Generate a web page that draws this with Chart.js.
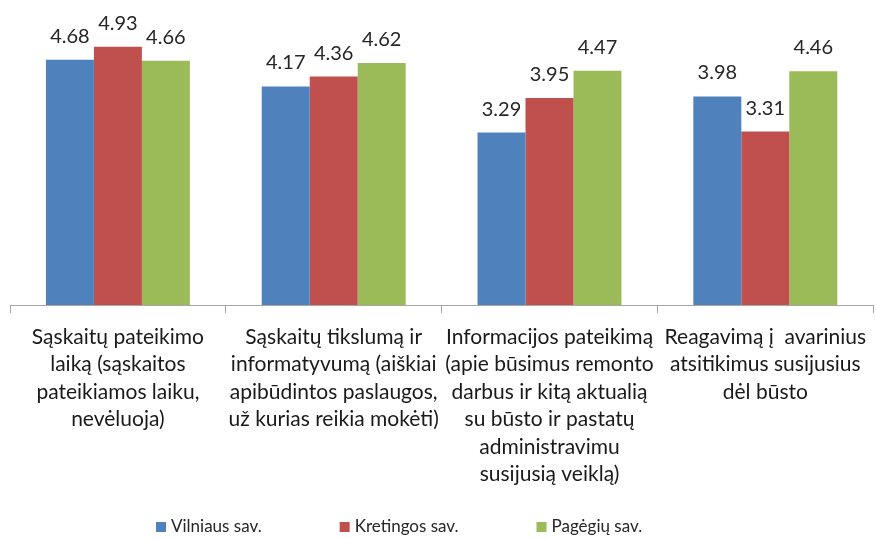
<!DOCTYPE html>
<html>
<head>
<meta charset="utf-8">
<script src="https://cdn.jsdelivr.net/npm/chart.js@4"></script>
<style>
  html, body { margin: 0; padding: 0; background: #fff; }
  #wrap { width: 876px; height: 539px; }
</style>
</head>
<body>
<div id="wrap"><canvas id="grafikas"></canvas></div>
<script>
const kategorijos = [
    ['Sąskaitų pateikimo', 'laiką (sąskaitos', 'pateikiamos laiku,', 'nevėluoja)'],
    ['Sąskaitų tikslumą ir', 'informatyvumą (aiškiai', 'apibūdintos paslaugos,', 'už kurias reikia mokėti)'],
    ['Informacijos pateikimą', '(apie būsimus remonto', 'darbus ir kitą aktualią', 'su būsto ir pastatų', 'administravimu', 'susijusią veiklą)'],
    ['Reagavimą į  avarinius', 'atsitikimus susijusius', 'dėl būsto']
]
const serijos = ['Vilniaus sav.', 'Kretingos sav.', 'Pagėgių sav.']
const vilnius = [4.68, 4.17, 3.29, 3.98]
const kretinga = [4.93, 4.36, 3.95, 3.31]
const pagegiai = [4.66, 4.62, 4.47, 4.46]
const spalvos = ['#4F81BD', '#C0504D', '#9BBB59']

const SRIFTAS = 'Lato, "Open Sans", sans-serif'

// reiksmes virs stulpeliu
const reiksmiuZymes = {
    id: 'reiksmiuZymes',
    afterDatasetsDraw(chart) {
        const ctx = chart.ctx
        ctx.save()
        ctx.font = '20px ' + SRIFTAS
        ctx.fillStyle = '#262626'
        ctx.textAlign = 'center'
        ctx.textBaseline = 'alphabetic'
        chart.data.datasets.forEach((ds, i) => {
            chart.getDatasetMeta(i).data.forEach((bar, j) => {
                ctx.fillText(ds.data[j].toFixed(2), bar.x, bar.y - 17)
            })
        })
        ctx.restore()
    }
}

// legenda apacioje
const legenda = {
    id: 'legenda',
    afterDraw(chart) {
        const ctx = chart.ctx
        ctx.save()
        ctx.font = '17px ' + SRIFTAS
        ctx.textBaseline = 'middle'
        let x = 156
        const y = 527
        chart.data.datasets.forEach(ds => {
            ctx.fillStyle = ds.backgroundColor
            ctx.fillRect(x, y - 5, 10, 10)
            ctx.fillStyle = '#262626'
            ctx.fillText(ds.label, x + 15, y)
            x += 15 + ctx.measureText(ds.label).width + 78
        })
        ctx.restore()
    }
}

new Chart(document.getElementById('grafikas').getContext('2d'), {
    type: 'bar',
    data: {
        labels: kategorijos,
        datasets: [vilnius, kretinga, pagegiai].map((d, i) => ({
            label: serijos[i],
            data: d,
            backgroundColor: spalvos[i],
            borderWidth: 0,
            categoryPercentage: 0.667,
            barPercentage: 1.0
        }))
    },
    options: {
        responsive: true,
        maintainAspectRatio: false,
        animation: false,
        layout: { padding: { top: 43, left: 10, right: 0, bottom: 0 } },
        scales: {
            y: { display: false, min: 0, max: 5 },
            x: {
                offset: true,
                grid: { offset: true, drawOnChartArea: false, drawTicks: true, tickLength: 8, color: '#a6a6a6' },
                border: { color: '#a6a6a6', width: 1 },
                ticks: {
                    autoSkip: false,
                    maxRotation: 0,
                    padding: 10,
                    color: '#1a1a1a',
                    font: { family: SRIFTAS, size: 21, lineHeight: 1.31 }
                },
                afterFit: (scale) => { scale.height = 234 }
            }
        },
        plugins: {
            legend: { display: false },
            tooltip: { enabled: false }
        }
    },
    plugins: [reiksmiuZymes, legenda]
});
</script>
</body>
</html>
